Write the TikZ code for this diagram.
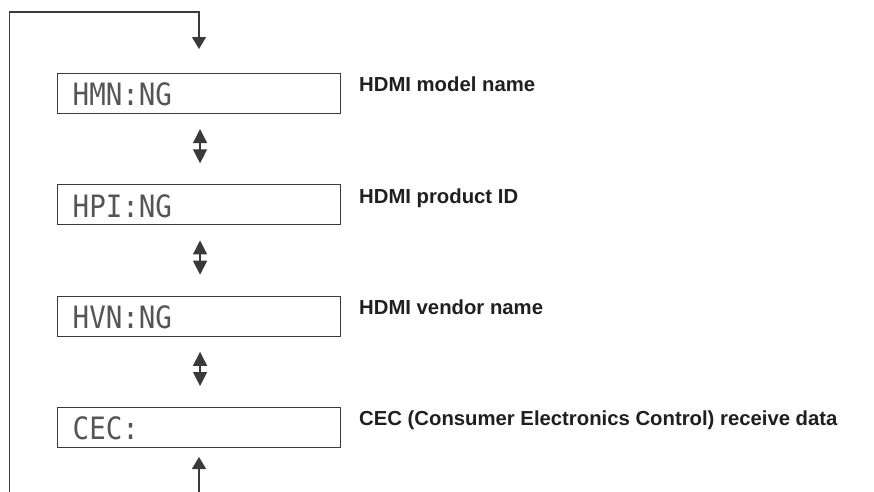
\documentclass[tikz,border=0pt]{standalone}
\usepackage{fontspec}
\setsansfont{Liberation Sans}
\newfontfamily\lcdfont{DejaVu Sans Mono}
\usetikzlibrary{arrows.meta,calc}
\definecolor{ln}{HTML}{3A3A3A}
\definecolor{lcd}{HTML}{555555}
\tikzset{
  x=1pt,y=1pt,
  lcdbox/.style={draw=ln,line width=1.1pt,minimum width=283pt,minimum height=40pt,anchor=north west,inner sep=0pt},
  lcdtxt/.style={anchor=west,text=lcd,font=\lcdfont\fontsize{27.5}{28}\selectfont,inner sep=0pt},
  lbl/.style={anchor=north west,inner sep=0pt,text=black!88,font=\sffamily\bfseries\fontsize{20.3}{22}\selectfont},
  flow/.style={draw=ln,line width=1.3pt},
  tip/.style={-{Triangle[width=14pt,length=12pt]}},
  dbl/.style={{Triangle[width=14pt,length=14pt]}-{Triangle[width=14pt,length=14pt]}},
}
\begin{document}
\begin{tikzpicture}
\useasboundingbox (0,0) rectangle (874,-491);
\foreach \i/\y/\t/\l in {1/73/HMN:NG/HDMI model name,2/184.3/HPI:NG/HDMI product ID,3/295.7/HVN:NG/HDMI vendor name,4/407/CEC:/CEC (Consumer Electronics Control) receive data}{
  \node[lcdbox] (b\i) at (56.5,-\y) {};
  \node[lcdtxt] (t\i) at ($(b\i.west)+(16,-1)$) {\scalebox{1}[1.12]{\t}};
  \node[lbl] (l\i) at (359,-\y-4) {\l};
}
\coordinate (topin) at (199,-12);
\coordinate (corner) at (9.5,-12);
\coordinate (botleft) at (9.5,-492);
\coordinate (botin) at (199,-492);
\coordinate (a1) at (199,-49);
\coordinate (a4) at (199,-457);
\draw[flow,tip] (botleft) -- (corner) -- (topin) -- (a1);
\draw[flow,tip] (botin) -- (a4);
\foreach \a/\b in {1/2,2/3,3/4}{
  \coordinate (u\a) at ($(b\a.south)+(1.5,-15)$);
  \coordinate (v\a) at ($(b\b.north)+(1.5,21)$);
  \draw[flow,dbl] (u\a) -- (v\a);
}
\end{tikzpicture}
\end{document}
